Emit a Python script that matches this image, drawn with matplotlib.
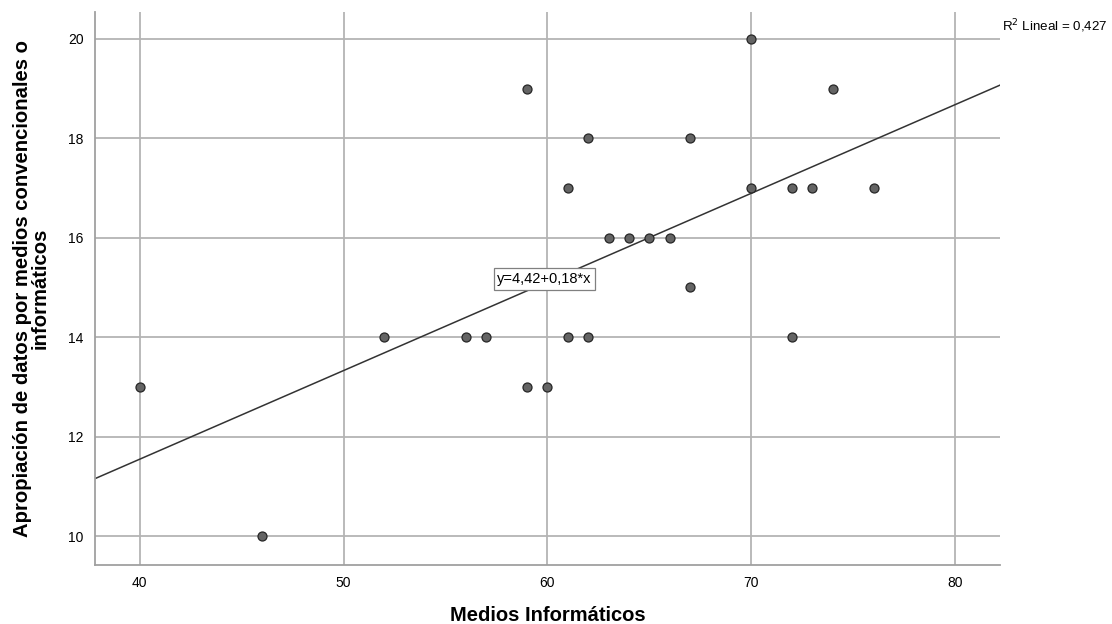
import numpy as np
import matplotlib
matplotlib.use('Agg')
import matplotlib.pyplot as plt

plt.rcParams['font.family'] = ['Liberation Sans', 'DejaVu Sans']

# data
medios_informaticos = [40, 46, 52, 56, 57, 59, 59, 60, 61, 61, 62, 62, 63,
                       64, 65, 66, 67, 67, 70, 70, 72, 72, 73, 74, 76]
apropiacion = [13, 10, 14, 14, 14, 19, 13, 13, 17, 14, 18, 14, 16,
               16, 16, 16, 18, 15, 20, 17, 17, 14, 17, 19, 17]
x_ticks = [40, 50, 60, 70, 80]
y_ticks = [10, 12, 14, 16, 18, 20]

fig = plt.figure(figsize=(11.12, 6.24), dpi=100)
ax = fig.add_axes([0.0854, 0.0946, 0.8139, 0.8862])

ax.set_xlim(37.8, 82.2)
ax.set_ylim(9.42, 20.54)
ax.set_xticks(x_ticks)
ax.set_yticks(y_ticks)
ax.grid(True, color='#b4b4b4', linewidth=1.3)
ax.set_axisbelow(True)
ax.tick_params(length=0, labelsize=10, pad=8)

for s in ['top', 'right']:
    ax.spines[s].set_visible(False)
for s in ['left', 'bottom']:
    ax.spines[s].set_color('#a0a0a0')
    ax.spines[s].set_linewidth(1.3)

# fit line
m, b = np.polyfit(medios_informaticos, apropiacion, 1)
xs = np.array([37.8, 82.2])
ax.plot(xs, b + m * xs, color='#333333', linewidth=1.1, zorder=2)

ax.scatter(medios_informaticos, apropiacion, s=42, color='#646464',
           edgecolors='#262626', linewidths=0.9, zorder=3)

ax.text(59.85, 15.17, 'y=4,42+0,18*x', fontsize=10.5, ha='center', va='center',
        bbox=dict(boxstyle='square,pad=0.25', facecolor='white', edgecolor='#808080',
                  linewidth=0.9), zorder=4)

fig.text(0.901, 0.951, 'R$^2$ Lineal = 0,427', fontsize=9.6, ha='left', va='baseline')

ax.set_xlabel('Medios Informáticos', fontsize=14.5, fontweight='bold')
ax.xaxis.set_label_coords(0.5, -0.075)
ax.set_ylabel('Apropiación de datos por medios convencionales o\ninformáticos',
              fontsize=14.6, fontweight='bold', linespacing=0.92)
ax.yaxis.set_label_coords(-0.05, 0.5)

plt.savefig('out.png', dpi=100)
